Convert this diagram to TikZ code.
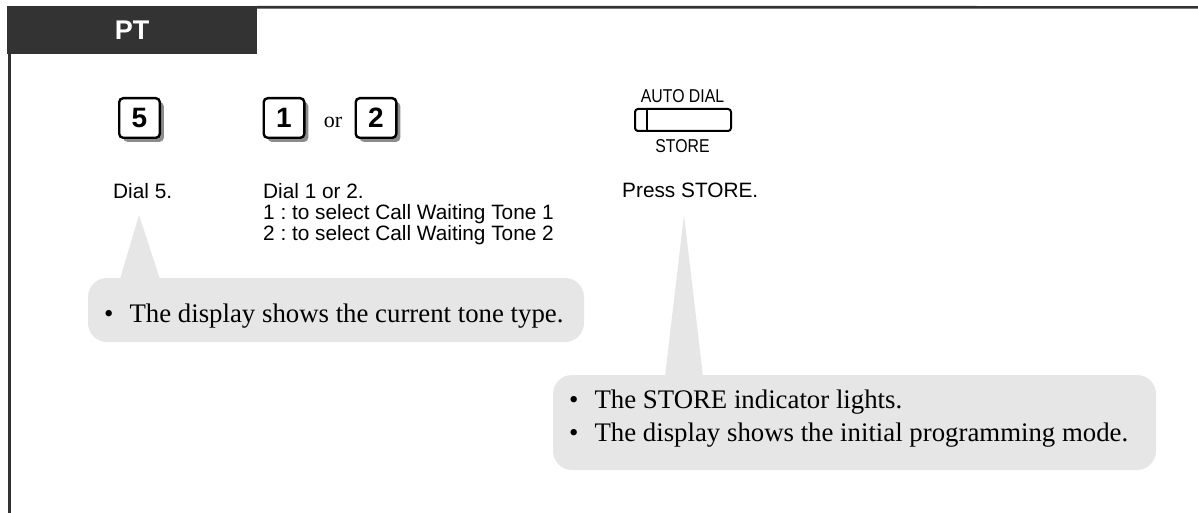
\documentclass[tikz,border=0pt]{standalone}
\usepackage{fontspec}
\setmainfont{Liberation Serif}
\newfontfamily\arial{Liberation Sans}
\newfontfamily\arialnarrow[FakeStretch=0.85]{Liberation Sans}
\usetikzlibrary{shadows}
\frenchspacing

\definecolor{hdrgray}{HTML}{333333}
\definecolor{bubblegray}{HTML}{E6E6E6}
\definecolor{keyshade}{HTML}{8C8C8C}

\newcommand{\bulletline}[1]{\textbullet\hspace{16pt}#1}

\tikzset{
    frameline/.style = {draw=hdrgray, line width=2.7pt},
    hdrbox/.style = {fill=hdrgray, minimum width=250pt, minimum height=48pt, inner sep=0pt,
                     text=white, font=\arial\bfseries\fontsize{27}{27}\selectfont},
    keybox/.style = {draw=black, line width=2.4pt, rounded corners=4pt, fill=white,
                     minimum width=40.6pt, minimum height=39.6pt, inner sep=0pt,
                     font=\arial\bfseries\fontsize{28}{28}\selectfont,
                     drop shadow={shadow xshift=4pt, shadow yshift=-4pt, fill=keyshade, opacity=1}},
    storebox/.style = {draw=black, line width=2pt, rounded corners=3pt, fill=white,
                       minimum width=96pt, minimum height=22pt, inner sep=0pt},
    keylabel/.style = {inner sep=0pt, anchor=base, font=\arialnarrow\fontsize{18.6}{18.6}\selectfont},
    steptext/.style = {inner sep=0pt, align=left, anchor=north west, font=\arial\fontsize{20.8}{21}\selectfont},
    bubble/.style = {fill=bubblegray, rounded corners=19pt, inner sep=0pt},
    pointer/.style = {fill=bubblegray},
    bubbletext/.style = {inner sep=0pt, align=left, anchor=north west, font=\fontsize{26.8}{33.4}\selectfont}
}

\begin{document}
\begin{tikzpicture}[x=1pt, y=-1pt]
    \useasboundingbox (0,0) rectangle (1198,513);

    % frame and header
    \node[hdrbox] (hdr) at (132,30) {PT};
    \draw[frameline] (hdr.north east) ++(0,1.4) coordinate (topstart) -- (1198,7.4);
    \draw[frameline] (9.7,54) coordinate (leftstart) -- (9.7,513);

    % keys
    \node[keybox] (key5) at (139.5,118) {5};
    \node[keybox] (key1) at (284,118) {1};
    \node[inner sep=0pt, anchor=base, font=\fontsize{22}{22}\selectfont] (ortext) at (333,128) {or};
    \node[keybox] (key2) at (376,118) {2};

    % store button
    \node[storebox] (storekey) at (683,120) {};
    \draw[line width=2pt] ([xshift=13pt]storekey.north west) -- ([xshift=13pt]storekey.south west);
    \node[keylabel] (autodial) at (682.5,103) {AUTO DIAL};
    \node[keylabel] (storelbl) at (682.5,153) {STORE};

    % step texts
    \node[steptext] (dial5) at (113,182.8) {Dial 5.};
    \node[steptext] (dial12) at (263,182.8) {Dial 1 or 2.\\
        1 : to select Call Waiting Tone 1\\
        2 : to select Call Waiting Tone 2};
    \node[steptext] (pressstore) at (622,182.8) {Press STORE.};

    % callouts
    \coordinate (tip5) at (139,215);
    \fill[pointer] (tip5) -- (120,279) -- (160,279) -- cycle;
    \node[bubble, minimum width=496pt, minimum height=64pt] (note5) at (336,310) {};
    \node[bubbletext] (note5text) at (104,303.7) {\bulletline{The display shows the current tone type.}};

    \coordinate (tipstore) at (684,215);
    \fill[pointer] (tipstore) -- (665,376) -- (703,376) -- cycle;
    \node[bubble, minimum width=603pt, minimum height=95pt] (notestore) at (854.5,422.5) {};
    \node[bubbletext] (notestoretext) at (569,389.7) {\bulletline{The STORE indicator lights.}\\
        \bulletline{The display shows the initial programming mode.}};
\end{tikzpicture}
\end{document}
